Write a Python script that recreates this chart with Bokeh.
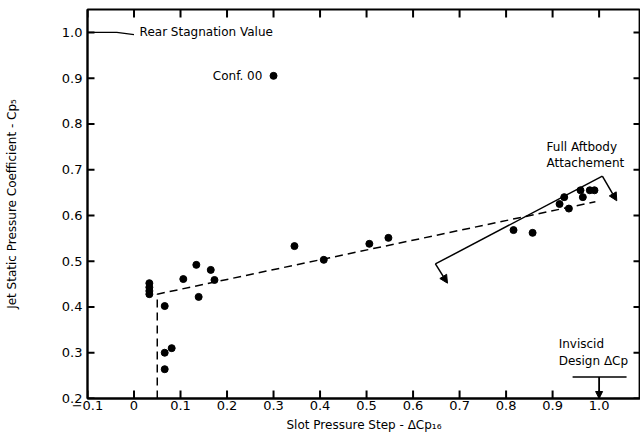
from bokeh.plotting import figure
from bokeh.models import Range1d, FixedTicker, Arrow, NormalHead
from bokeh.core.properties import value
from bokeh.embed import file_html
from bokeh.resources import INLINE

# ---- data ----
x_ticks = [-0.1, 0.0, 0.1, 0.2, 0.3, 0.4, 0.5, 0.6, 0.7, 0.8, 0.9, 1.0]
x_tick_labels = ["\u22120.1", "0", "0.1", "0.2", "0.3", "0.4", "0.5", "0.6", "0.7", "0.8", "0.9", "1.0"]
y_ticks = [0.2, 0.3, 0.4, 0.5, 0.6, 0.7, 0.8, 0.9, 1.0]
y_tick_labels = ["0.2", "0.3", "0.4", "0.5", "0.6", "0.7", "0.8", "0.9", "1.0"]

dp_x = [0.033, 0.033, 0.033, 0.033, 0.066, 0.066, 0.081, 0.066, 0.106, 0.134, 0.139, 0.165,
        0.173, 0.345, 0.408, 0.506, 0.547, 0.816, 0.857, 0.915, 0.925, 0.935, 0.960, 0.965,
        0.980, 0.990]
dp_y = [0.452, 0.443, 0.435, 0.428, 0.402, 0.300, 0.310, 0.264, 0.461, 0.492, 0.422, 0.481,
        0.459, 0.533, 0.503, 0.538, 0.551, 0.568, 0.562, 0.625, 0.640, 0.615, 0.655, 0.640,
        0.655, 0.655]

conf00_x = [0.30]
conf00_y = [0.905]

trend_x = [0.05, 0.05, 0.992]
trend_y = [0.20, 0.428, 0.630]

attach_x = [0.648, 1.007]
attach_y = [0.494, 0.686]
attach_lo_tip = (0.674, 0.452)
attach_hi_tip = (1.038, 0.632)

rear_x = [-0.1, -0.037, 0.0]
rear_y = [1.0, 1.0, 0.995]

inviscid_bar_x = [0.943, 1.059]
inviscid_bar_y = [0.247, 0.247]
inviscid_dcp = 1.0

FONT = "DejaVu Sans"
X0, X1 = -0.1, 1.089
Y0, Y1 = 0.2, 1.050

p = figure(width=640, height=440, output_backend="svg", toolbar_location=None,
           x_range=Range1d(X0, X1), y_range=Range1d(Y0, Y1),
           min_border_left=87, min_border_right=0, min_border_top=9, min_border_bottom=42)
p.grid.visible = False
p.outline_line_color = "black"
p.outline_line_width = 1.8
p.background_fill_color = "white"

def style_axis(ax, ticks, labels):
    ax.ticker = FixedTicker(ticks=ticks)
    ax.major_tick_in = 0
    ax.major_tick_out = 0
    ax.major_tick_line_color = None
    ax.minor_tick_line_color = None
    ax.axis_line_width = 2
    ax.axis_line_color = "black"
    ax.major_label_text_font = FONT
    ax.major_label_text_font_size = "13px"
    ax.major_label_text_color = "black"
    ax.major_label_overrides = {t: l for t, l in zip(ticks, labels)}
    ax.axis_label_text_font = FONT
    ax.axis_label_text_font_size = "12px"
    ax.axis_label_text_font_style = "normal"
    ax.axis_label_text_color = "black"

xa = p.xaxis[0]
style_axis(xa, x_ticks, x_tick_labels)
xa.major_label_standoff = 2
xa.axis_label = "Slot Pressure Step - \u0394Cp\u2081\u2086"
xa.axis_label_standoff = 5

ya = p.yaxis[0]
style_axis(ya, y_ticks, y_tick_labels)
ya.major_label_standoff = 5
ya.axis_label = "Jet Static Pressure Coefficient - Cp\u2085"
ya.axis_label_standoff = 40

# inward ticks on all four frame edges, at the tick values
tick_y = 8 * (Y1 - Y0) / 389.0
tick_x = 7 * (X1 - X0) / 553.0
nx, ny = len(x_ticks), len(y_ticks)
p.segment(x0=x_ticks, y0=[Y1] * nx, x1=x_ticks, y1=[Y1 - tick_y] * nx, line_color="black", line_width=2)
p.segment(x0=x_ticks, y0=[Y0] * nx, x1=x_ticks, y1=[Y0 + tick_y] * nx, line_color="black", line_width=2)
p.segment(x0=[X0] * ny, y0=y_ticks, x1=[X0 + tick_x] * ny, y1=y_ticks, line_color="black", line_width=2)
p.segment(x0=[X1] * ny, y0=y_ticks, x1=[X1 - tick_x] * ny, y1=y_ticks, line_color="black", line_width=2)

# dashed trend lines
p.line(trend_x, trend_y, line_color="black", line_width=1.5, line_dash="8 5")

# full aftbody attachment line and arrows
p.line(attach_x, attach_y, line_color="black", line_width=1.5)
p.add_layout(Arrow(x_start=attach_x[0], y_start=attach_y[0], x_end=attach_lo_tip[0], y_end=attach_lo_tip[1],
                   line_width=1.5, end=NormalHead(size=8, fill_color="black", line_color="black")))
p.add_layout(Arrow(x_start=attach_x[1], y_start=attach_y[1], x_end=attach_hi_tip[0], y_end=attach_hi_tip[1],
                   line_width=1.5, end=NormalHead(size=8, fill_color="black", line_color="black")))

# rear stagnation leader
p.line(rear_x, rear_y, line_color="black", line_width=1.2)

# inviscid design marker
p.line(inviscid_bar_x, inviscid_bar_y, line_color="black", line_width=1.5)
p.add_layout(Arrow(x_start=inviscid_dcp, y_start=inviscid_bar_y[0], x_end=inviscid_dcp, y_end=Y0,
                   line_width=1.8, end=NormalHead(size=7, fill_color="black", line_color="black")))

# data points
p.scatter(dp_x, dp_y, size=7, color="black")
p.scatter(conf00_x, conf00_y, size=7, color="black")

# annotations
txt = dict(text_font=value(FONT), text_font_size="12px", text_color="black", text_baseline="middle")
p.text(x=[0.012], y=[1.0], text=["Rear Stagnation Value"], text_align="left", **txt)
p.text(x=[0.276], y=[0.905], text=["Conf. 00"], text_align="right", **txt)
p.text(x=[0.887, 0.887], y=[0.750, 0.715], text=["Full Aftbody", "Attachement"], text_align="left", **txt)
p.text(x=[0.913, 0.913], y=[0.320, 0.282], text=["Inviscid", "Design \u0394Cp"], text_align="left", **txt)

open("out.html", "w").write(file_html(p, INLINE))
